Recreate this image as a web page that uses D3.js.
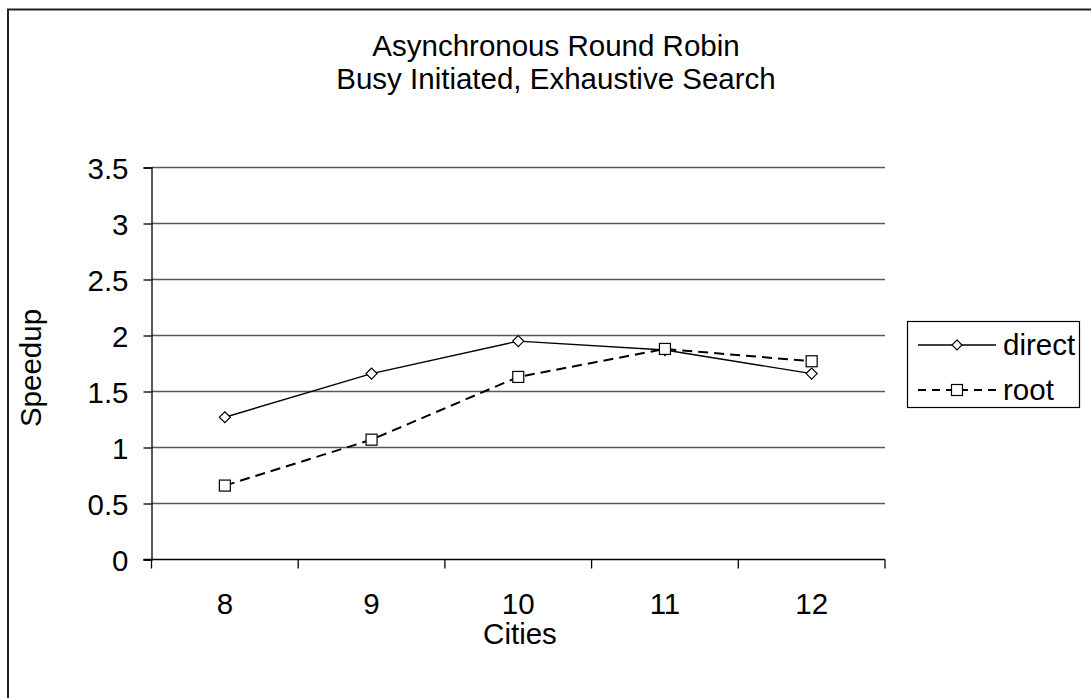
<!DOCTYPE html>
<html>
<head>
<meta charset="utf-8">
<script src="https://cdn.jsdelivr.net/npm/d3@7"></script>
<style>
  html, body { margin: 0; padding: 0; background: #fff; }
  svg { display: block; font-family: "Liberation Sans", Arial, sans-serif; }
  svg text { font-family: "Liberation Sans", Arial, sans-serif; font-size: 29.5px; fill: #000; }
</style>
</head>
<body>
<svg id="chart" width="1091" height="698"></svg>
<script>
// Chart data
const cities = ["8", "9", "10", "11", "12"];
const directSpeedup = [1.27, 1.66, 1.95, 1.87, 1.66];
const rootSpeedup = [0.66, 1.07, 1.63, 1.88, 1.77];
const yTicks = [0, 0.5, 1, 1.5, 2, 2.5, 3, 3.5];
const titleLines = ["Asynchronous Round Robin", "Busy Initiated, Exhaustive Search"];

const svg = d3.select("#chart");

// Outer frame (runs off the right and bottom edges)
svg.append("rect")
  .attr("x", 8).attr("y", 9.5)
  .attr("width", 1100).attr("height", 700)
  .attr("fill", "none").attr("stroke", "#222").attr("stroke-width", 2);

const plot = { left: 151.5, right: 885, top: 167.5, bottom: 559.5 };

const x = d3.scaleBand().domain(cities).range([plot.left, plot.right]);
const y = d3.scaleLinear().domain([0, 3.5]).range([plot.bottom, plot.top]);

// Horizontal gridlines
svg.append("g").selectAll("line").data(yTicks.filter(d => d > 0)).join("line")
  .attr("x1", plot.left).attr("x2", plot.right)
  .attr("y1", d => y(d)).attr("y2", d => y(d))
  .attr("stroke", "#5a5a5a").attr("stroke-width", 1.3);

// Y axis
const yAxis = svg.append("g")
  .attr("transform", `translate(${plot.left},0)`)
  .call(d3.axisLeft(y).tickValues(yTicks).tickSize(8).tickPadding(15)
    .tickFormat(d => String(d)));
yAxis.attr("font-size", null).attr("font-family", null);
yAxis.select(".domain").attr("stroke", "#000").attr("stroke-width", 1.3);
yAxis.selectAll(".tick line").attr("stroke", "#000").attr("stroke-width", 1.3);
yAxis.selectAll(".tick text").attr("fill", "#000").attr("dy", "0.36em");

// X axis: ticks between categories
const xAxisG = svg.append("g").attr("transform", `translate(0,${plot.bottom})`);
xAxisG.append("line")
  .attr("x1", plot.left - 8).attr("x2", plot.right)
  .attr("stroke", "#000").attr("stroke-width", 1.3);
const boundaries = cities.map(c => x(c)).concat([x(cities[cities.length - 1]) + x.bandwidth()]);
xAxisG.selectAll("line.tk").data(boundaries).join("line").attr("class", "tk")
  .attr("x1", d => d).attr("x2", d => d).attr("y1", 0).attr("y2", 9)
  .attr("stroke", "#000").attr("stroke-width", 1.3);
xAxisG.selectAll("text").data(cities).join("text")
  .attr("x", d => x(d) + x.bandwidth() / 2).attr("y", 54)
  .attr("text-anchor", "middle").text(d => d);

// Series
const cx = c => x(c) + x.bandwidth() / 2;
const line = d3.line().x(d => cx(d.c)).y(d => y(d.v));
const directPts = cities.map((c, i) => ({ c, v: directSpeedup[i] }));
const rootPts = cities.map((c, i) => ({ c, v: rootSpeedup[i] }));

svg.append("path").datum(directPts).attr("d", line)
  .attr("fill", "none").attr("stroke", "#000").attr("stroke-width", 1.4);
svg.append("path").datum(rootPts).attr("d", line)
  .attr("fill", "none").attr("stroke", "#000").attr("stroke-width", 2)
  .attr("stroke-dasharray", "10,6");

const diamond = (px, py, r) => `M${px},${py - r}L${px + r},${py}L${px},${py + r}L${px - r},${py}Z`;

svg.append("g").selectAll("path").data(directPts).join("path")
  .attr("d", d => diamond(cx(d.c), y(d.v), 5.5))
  .attr("fill", "#fff").attr("stroke", "#000").attr("stroke-width", 1.2);
svg.append("g").selectAll("rect").data(rootPts).join("rect")
  .attr("x", d => cx(d.c) - 5.5).attr("y", d => y(d.v) - 5.5)
  .attr("width", 11).attr("height", 11)
  .attr("fill", "#fff").attr("stroke", "#000").attr("stroke-width", 1.2);

// Title
svg.append("g").selectAll("text").data(titleLines).join("text")
  .attr("x", 556).attr("y", (d, i) => 56 + i * 33)
  .attr("text-anchor", "middle").text(d => d);

// Axis titles
svg.append("text").attr("x", 520).attr("y", 644)
  .attr("text-anchor", "middle").text("Cities");
svg.append("text")
  .attr("transform", "translate(41,368) rotate(-90)")
  .attr("text-anchor", "middle").text("Speedup");

// Legend
const legend = svg.append("g");
legend.append("rect")
  .attr("x", 907.5).attr("y", 321.5).attr("width", 172).attr("height", 86)
  .attr("fill", "#fff").attr("stroke", "#000").attr("stroke-width", 1.2);
const legendItems = [
  { name: "direct", dash: null, width: 1.4, marker: "diamond", yy: 345 },
  { name: "root", dash: "8,6", width: 2, marker: "square", yy: 390 }
];
legendItems.forEach(it => {
  legend.append("line")
    .attr("x1", 918).attr("x2", 996).attr("y1", it.yy).attr("y2", it.yy)
    .attr("stroke", "#000").attr("stroke-width", it.width)
    .attr("stroke-dasharray", it.dash);
  if (it.marker === "diamond") {
    legend.append("path").attr("d", diamond(957, it.yy, 5))
      .attr("fill", "#fff").attr("stroke", "#000").attr("stroke-width", 1.2);
  } else {
    legend.append("rect").attr("x", 951.5).attr("y", it.yy - 5.5)
      .attr("width", 11).attr("height", 11)
      .attr("fill", "#fff").attr("stroke", "#000").attr("stroke-width", 1.2);
  }
  legend.append("text").attr("x", 1003).attr("y", it.yy + 10).text(it.name);
});
</script>
</body>
</html>
